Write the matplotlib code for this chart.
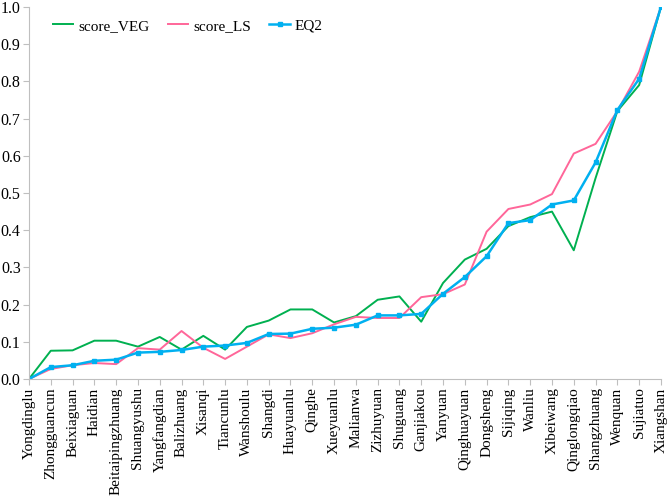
import matplotlib.pyplot as plt

plt.rcParams['font.family'] = 'serif'
plt.rcParams['font.serif'] = ['Liberation Serif', 'DejaVu Serif']

stations = ['Yongdinglu', 'Zhongguancun', 'Beixiaguan', 'Haidian', 'Beitaipingzhuang',
            'Shuangyushu', 'Yangfangdian', 'Balizhuang', 'Xisanqi', 'Tiancunlu',
            'Wanshoulu', 'Shangdi', 'Huayuanlu', 'Qinghe', 'Xueyuanlu',
            'Malianwa', 'Zizhuyuan', 'Shuguang', 'Ganjiakou', 'Yanyuan',
            'Qinghuayuan', 'Dongsheng', 'Sijiqing', 'Wanliu', 'Xibeiwang',
            'Qinglongqiao', 'Shangzhuang', 'Wenquan', 'Sujiatuo', 'Xiangshan']

score_veg = [0.0, 0.076, 0.077, 0.103, 0.103, 0.087, 0.113, 0.079, 0.116, 0.079,
             0.140, 0.157, 0.187, 0.187, 0.152, 0.169, 0.213, 0.222, 0.154, 0.258,
             0.321, 0.350, 0.411, 0.435, 0.450, 0.346, 0.540, 0.720, 0.790, 1.0]
score_ls = [0.0, 0.027, 0.037, 0.043, 0.040, 0.083, 0.079, 0.129, 0.084, 0.054,
            0.087, 0.120, 0.110, 0.123, 0.147, 0.167, 0.164, 0.164, 0.220, 0.228,
            0.254, 0.396, 0.457, 0.469, 0.497, 0.606, 0.632, 0.720, 0.826, 1.0]
eq2 = [0.0, 0.032, 0.037, 0.049, 0.052, 0.071, 0.073, 0.078, 0.087, 0.090,
       0.097, 0.121, 0.122, 0.135, 0.138, 0.146, 0.171, 0.171, 0.175, 0.229,
       0.274, 0.330, 0.419, 0.427, 0.469, 0.480, 0.582, 0.723, 0.807, 1.0]

fig = plt.figure(figsize=(6.71, 4.97), dpi=100)
ax = fig.add_axes([0.0432, 0.2374, 0.9418, 0.7486])

x = range(len(stations))
ax.plot(x, score_veg, color='#00B050', lw=1.4, label='score_VEG')
ax.plot(x, score_ls, color='#FF6699', lw=1.4, label='score_LS')
ax.plot(x, eq2, color='#00B0F0', lw=1.8, marker='s', markersize=3.5, label='EQ2')

ax.set_xlim(0, len(stations) - 1)
ax.set_ylim(0, 1.0)
ax.set_xticks(list(x))
ax.set_xticklabels(stations, rotation=90, fontsize=11)
ax.set_yticks([i / 10 for i in range(11)])
ax.set_yticklabels([f'{i / 10:.1f}' for i in range(11)], fontsize=11.5)

for s in ['top', 'right']:
    ax.spines[s].set_visible(False)
for s in ['left', 'bottom']:
    ax.spines[s].set_color('#BFBFBF')
ax.tick_params(axis='both', colors='#BFBFBF', labelcolor='black', length=4, width=0.8, pad=2)

ax.legend(loc='upper left', bbox_to_anchor=(0.0285, 0.984), borderaxespad=0, ncol=3,
          frameon=False, fontsize=11, handlelength=1.33, handletextpad=0.33,
          columnspacing=1.2)

fig.savefig('out.png', dpi=100)
